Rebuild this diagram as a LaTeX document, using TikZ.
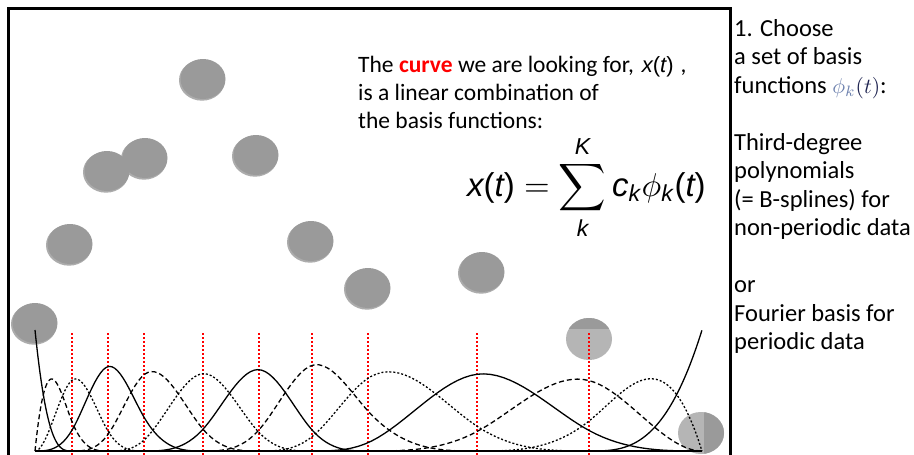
\documentclass[tikz,border=0pt]{standalone}
\usepackage{fontspec}
\usepackage{amsmath}
\usepackage{graphicx}
\setmainfont{Carlito}
\newfontfamily\eqfont{Liberation Sans}
\newcommand{\eqit}{\eqfont\itshape}
\newcommand{\equp}{\eqfont\upshape}
\definecolor{dotgray}{RGB}{154,154,154}
\definecolor{dotshade}{RGB}{172,172,172}
\definecolor{dotlight}{RGB}{181,181,181}
\definecolor{phicol}{RGB}{110,130,175}
\definecolor{navyt}{RGB}{30,35,80}
\newcommand{\gdot}[2]{\fill[dotshade] (#1-1,#2+1.2) ellipse (23 and 20.5);
  \fill[dotgray] (#1,#2) ellipse (22.5 and 20);}
\newcommand{\bsp}[7]{\draw[#1] plot[domain=#3:#2, samples=60]
  (\x, {451-121*spthree(\x/100,#3/100,#4/100,#5/100,#6/100,#7/100)});}
\tikzset{
  declare function={
    spzero(\xx,\ka,\kb)=(\xx>=\ka)*(\xx<\kb);
    spone(\xx,\ka,\kb,\kc)=(\xx-\ka)/max(\kb-\ka,0.01)*spzero(\xx,\ka,\kb)+(\kc-\xx)/max(\kc-\kb,0.01)*spzero(\xx,\kb,\kc);
    sptwo(\xx,\ka,\kb,\kc,\kd)=(\xx-\ka)/max(\kc-\ka,0.01)*spone(\xx,\ka,\kb,\kc)+(\kd-\xx)/max(\kd-\kb,0.01)*spone(\xx,\kb,\kc,\kd);
    spthree(\xx,\ka,\kb,\kc,\kd,\ke)=(\xx-\ka)/max(\kd-\ka,0.01)*sptwo(\xx,\ka,\kb,\kc,\kd)+(\ke-\xx)/max(\ke-\kb,0.01)*sptwo(\xx,\kb,\kc,\kd,\ke);
  },
  solidc/.style={line width=1.3pt, line join=round},
  dashc/.style={line width=1.3pt, dash pattern=on 5pt off 3pt},
  dotc/.style={line width=1.3pt, dash pattern=on 2pt off 2pt},
  knotline/.style={red, line width=1.5pt, dash pattern=on 2pt off 2pt},
  txt/.style={anchor=base west, inner sep=0pt, font=\fontsize{23.5}{28}\selectfont},
  rtxt/.style={anchor=base west, inner sep=0pt, font=\fontsize{24.5}{29}\selectfont}
}
\begin{document}
\begin{tikzpicture}[x=1pt,y=-1pt]
\useasboundingbox (0,0) rectangle (914,455);
\fill[white] (0,0) rectangle (914,455);
% frame
\draw[line width=3pt] (8,456) -- (8,8.7) -- (730,8.7) -- (730,456);
% data points
\gdot{203}{79}
\gdot{145}{158}
\gdot{107}{171}
\gdot{256}{155}
\gdot{70}{244}
\gdot{311}{241}
\gdot{368}{288}
\gdot{482}{272}
\gdot{35}{323}
% light dots
\fill[dotlight] (589,339) ellipse (23 and 21);
\begin{scope}
  \clip (560,300) rectangle (620,328);
  \fill[dotgray] (589,339) ellipse (23 and 21);
\end{scope}
\fill[dotlight] (701,433) ellipse (23 and 21);
\begin{scope}
  \clip (704,400) rectangle (730,460);
  \fill[dotgray] (701,433) ellipse (23 and 21);
\end{scope}
% knot lines
\foreach \k in {72,108,144,203,259,312,368,477,589}
  \draw[knotline] (\k,333) -- (\k,455);
% basis functions
\bsp{solidc}{72}{35}{35}{35}{35}{72}
\bsp{dashc}{108}{35}{35}{35}{72}{108}
\bsp{dotc}{144}{35}{35}{72}{108}{144}
\bsp{solidc}{203}{35}{72}{108}{144}{203}
\bsp{dashc}{259}{72}{108}{144}{203}{259}
\bsp{dotc}{312}{108}{144}{203}{259}{312}
\bsp{solidc}{368}{144}{203}{259}{312}{368}
\bsp{dashc}{477}{203}{259}{312}{368}{477}
\bsp{dotc}{589}{259}{312}{368}{477}{589}
\bsp{solidc}{702}{312}{368}{477}{589}{702}
\bsp{dashc}{702}{368}{477}{589}{702}{702}
\bsp{dotc}{702}{477}{589}{702}{702}{702}
\bsp{solidc}{701.9}{589}{702}{702}{702}{702}
% axis
\draw[line width=2pt] (35,451) -- (702,451);
% description text
\node[txt] (l1) at (358,72) {The {\bfseries\color{red}curve} we are looking for,\hspace{8pt}{\fontsize{22}{25}\selectfont\eqit x\equp(\eqit t\equp)}\hspace{7pt},};
\node[txt] (l2) at (358,100) {is a linear combination of};
\node[txt] (l3) at (358,128) {the basis functions:};
\node[anchor=base west, inner sep=0pt] (eq) at (467,196) {\scalebox{3.3}{$\text{\eqit x\equp(\eqit t\equp)} = \mathop{\vcenter{\hbox{$\displaystyle\sum$}}}\limits_{\text{\eqit k}}^{\text{\eqit K}} \text{\eqit c}_{\text{\eqit k}}\phi_{\text{\eqit k}}\text{\equp(\eqit t\equp)}$}};
% right column
\node[rtxt] (r1) at (734,36) {1. Choose};
\node[rtxt] (r2) at (734,64.5) {a set of basis};
\node[rtxt] (r3) at (734,93) {functions \scalebox{2.15}{\fontsize{10}{12}\selectfont{\color{phicol}$\phi_{k}$}{\color{navyt}$(t)$}}:};
\node[rtxt] (r5) at (734,150) {Third-degree};
\node[rtxt] (r6) at (734,178.5) {polynomials};
\node[rtxt] (r7) at (734,207) {(= B-splines) for};
\node[rtxt] (r8) at (734,235.5) {non-periodic data};
\node[rtxt] (r10) at (734,292.5) {or};
\node[rtxt] (r11) at (734,321) {Fourier basis for};
\node[rtxt] (r12) at (734,349.5) {periodic data};
\end{tikzpicture}
\end{document}
